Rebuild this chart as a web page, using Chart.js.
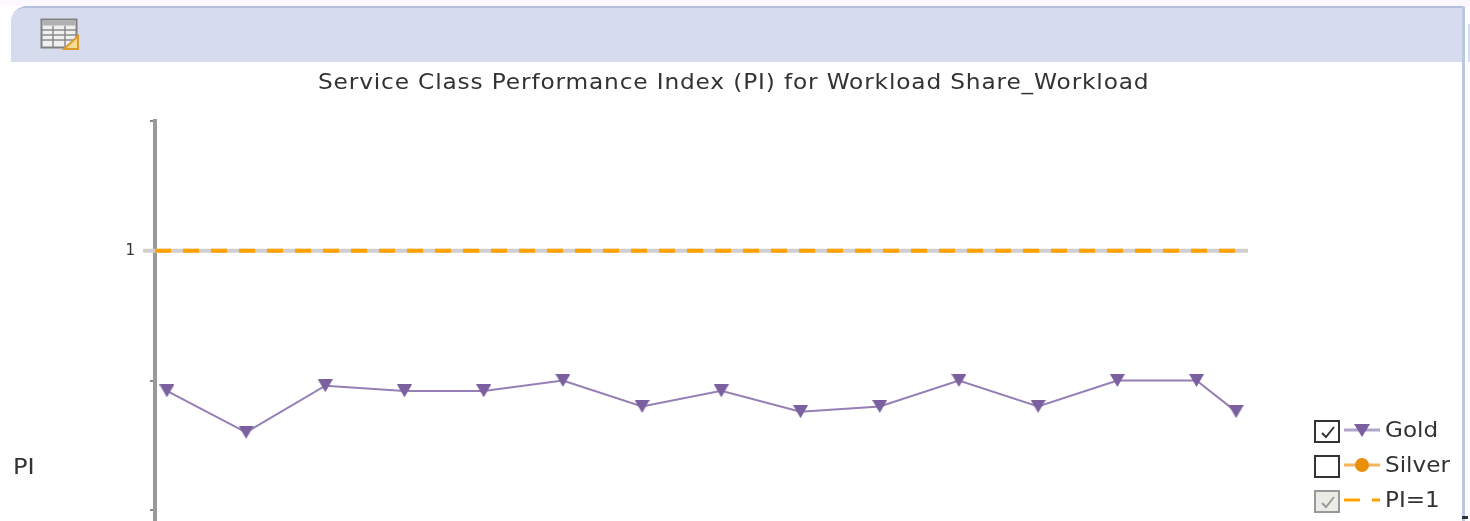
<!DOCTYPE html>
<html>
<head>
<meta charset="utf-8">
<script src="https://cdn.jsdelivr.net/npm/chart.js@4/dist/chart.umd.min.js"></script>
<style>
  html, body { margin: 0; padding: 0; width: 1470px; height: 521px; overflow: hidden; background: #fff; font-family: "DejaVu Sans", sans-serif; color: #333; }
  #page { position: absolute; left: 0; top: 0; width: 1470px; height: 521px; overflow: hidden; filter: blur(0.7px); }
  #topStrip { position: absolute; left: 0; top: 0; width: 1470px; height: 6px; background: #fdf8fd; }
  #panel { position: absolute; left: 11px; top: 6px; width: 1451px; height: 530px; background: #fff; border-top: 2px solid #b4c0dd; border-right: 3px solid #bcc7e2; border-top-left-radius: 16px; overflow: hidden; }
  #header { position: absolute; left: 0; top: 0; right: 0; height: 54px; background: #d6dbee; }
  #scrollBit { position: absolute; left: 1468px; top: 24px; width: 2px; height: 38px; background: #d6dbee; }
  #cornerBit { position: absolute; left: 1462px; top: 516px; width: 6px; height: 3px; background: #333; }
  #icon { position: absolute; left: 40px; top: 18px; }
  #chartWrap { position: absolute; left: 0; top: 0; width: 1467px; height: 664px; }
  #title { position: absolute; left: 318px; top: 68px; font-size: 22px; line-height: 28px; letter-spacing: 0.8px; white-space: nowrap; transform-origin: 0 0; }
  #yTitle { position: absolute; left: 13px; top: 453px; font-size: 22px; line-height: 28px; transform: scaleX(1.1); transform-origin: 0 0; }
  .legendRow { position: absolute; left: 1314px; height: 24px; }
  .legendRow .box { position: absolute; left: 0; top: 0; width: 22px; height: 19px; border: 2px solid #333; background: #fff; }
  .legendRow.locked .box { border-color: #999; background: #ecebe6; }
  .legendRow svg { position: absolute; }
  .legendRow .label { position: absolute; left: 71px; top: -3px; font-size: 22px; line-height: 26px; white-space: nowrap; transform: scaleX(1.05); transform-origin: 0 0; }
</style>
</head>
<body>
<div id="page">
  <div id="topStrip"></div>
  <div id="panel"><div id="header"></div></div>
  <div id="scrollBit"></div>
  <div id="cornerBit"></div>
  <svg id="icon" width="40" height="34" viewBox="0 0 40 34">
    <rect x="1.5" y="1.5" width="35" height="28" fill="#f0f0f0" stroke="#808080" stroke-width="2"/>
    <rect x="2.5" y="2.5" width="33" height="5" fill="#b0b0b0"/>
    <path d="M2 12H36M2 17H36M2 22H36M13 8V29M25 8V29" stroke="#8a8a8a" stroke-width="1.5" fill="none"/>
    <path d="M24 31 L38 31 L38 18 Z" fill="#f7dc94" stroke="#dd9a2a" stroke-width="2"/>
  </svg>
  <div id="chartWrap"><canvas id="piChart"></canvas></div>
  <div id="title"></div>
  <div id="yTitle"></div>
  <div id="legend"></div>
</div>

<script>
const chartTitle = "Service Class Performance Index (PI) for Workload Share_Workload";
const yAxisTitle = "PI";

// sample positions, last one comes at half a step
const goldX = [0, 1, 2, 3, 4, 5, 6, 7, 8, 9, 10, 11, 12, 13, 13.5];
const goldValues = [0.46, 0.3, 0.48, 0.46, 0.46, 0.5, 0.4, 0.46, 0.38, 0.4, 0.5, 0.4, 0.5, 0.5, 0.38];
const silverValues = [];
const baseX = [-0.3, 13.65];
const dashX = [-0.15, 13.55];
const thresholdValues = [1, 1];
const yTicks = [1.5, 1, 0.5, 0, -0.5];
const labeledTicks = [1];
const legendNames = ["Gold", "Silver", "PI=1"];

const toPoints = (xs, ys) => xs.map((x, i) => ({ x: x, y: ys[i] }));

// down triangle centred on its box, the built in one sits on its centroid
const marker = document.createElement("canvas");
marker.width = 15;
marker.height = 13;
const mctx = marker.getContext("2d");
mctx.fillStyle = "#7a609f";
mctx.beginPath();
mctx.moveTo(0, 0);
mctx.lineTo(15, 0);
mctx.lineTo(7.5, 13);
mctx.closePath();
mctx.fill();

new Chart(document.getElementById("piChart"), {
  type: "line",
  data: {
    datasets: [
      {
        label: legendNames[0],
        data: toPoints(goldX, goldValues),
        borderColor: "#957fb5",
        borderWidth: 2,
        pointStyle: marker,
        tension: 0,
      },
      {
        label: legendNames[1],
        data: silverValues,
        hidden: true,
        borderColor: "#f5b45f",
        backgroundColor: "#e8900c",
      },
      {
        label: legendNames[2],
        data: toPoints(dashX, thresholdValues),
        borderColor: "#ffa200",
        borderWidth: 4,
        borderDash: [16, 12],
        pointRadius: 0,
        clip: false,
      },
      {
        label: "PI=1 base",
        data: toPoints(baseX, thresholdValues),
        borderColor: "#cfcfcf",
        borderWidth: 4,
        pointRadius: 0,
        clip: false,
      },
    ],
  },
  options: {
    responsive: true,
    maintainAspectRatio: false,
    animation: false,
    layout: { padding: { left: 0, right: 219, top: 121, bottom: 16 } },
    plugins: {
      legend: { display: false },
      tooltip: { enabled: false },
    },
    scales: {
      x: { type: "linear", display: false, min: -0.15, max: 13.65 },
      y: {
        min: -0.5,
        max: 1.5,
        afterBuildTicks: (axis) => { axis.ticks = yTicks.map((v) => ({ value: v })); },
        afterFit: (axis) => { axis.width = 155; },
        border: { color: "#999", width: 4 },
        grid: { drawOnChartArea: false, color: "#888", lineWidth: 2, tickLength: 5 },
        ticks: {
          autoSkip: false,
          color: "#333",
          font: { family: "'DejaVu Sans'", size: 15 },
          padding: 15,
          callback: (v) => (labeledTicks.includes(v) ? String(v) : ""),
        },
      },
    },
  },
});

const titleEl = document.getElementById("title");
titleEl.textContent = chartTitle;
titleEl.style.transform = "scaleX(" + 831 / titleEl.offsetWidth + ")";
document.getElementById("yTitle").textContent = yAxisTitle;

// legend: check box, line sample, name
const swatches = [
  '<line x1="0" x2="36" y1="10" y2="10" stroke="#b3a4cb" stroke-width="3"/><path d="M10 4H26L18 17Z" fill="#7a609f"/>',
  '<line x1="0" x2="36" y1="10" y2="10" stroke="#f5b45f" stroke-width="3"/><circle cx="18" cy="10" r="7" fill="#e8900c"/>',
  '<line x1="0" x2="16" y1="10" y2="10" stroke="#ffa200" stroke-width="3"/><line x1="28" x2="36" y1="10" y2="10" stroke="#ffa200" stroke-width="3"/>',
];
const rowTops = [420, 455, 490];
const rowChecked = [true, false, true];
const check = (c) => '<svg style="left:3px;top:2px" width="18" height="16" viewBox="0 0 18 16"><path d="M3 9L7 13L15 3" stroke="' + c + '" stroke-width="2" fill="none"/></svg>';
document.getElementById("legend").innerHTML = legendNames.map((name, i) =>
  '<div class="legendRow' + (i === 2 ? " locked" : "") + '" style="top:' + rowTops[i] + 'px">' +
  '<div class="box">' + (rowChecked[i] ? check(i === 2 ? "#999" : "#333") : "") + "</div>" +
  '<svg style="left:30px;top:0" width="36" height="20">' + swatches[i] + "</svg>" +
  '<div class="label">' + name + "</div></div>"
).join("");
</script>
</body>
</html>
